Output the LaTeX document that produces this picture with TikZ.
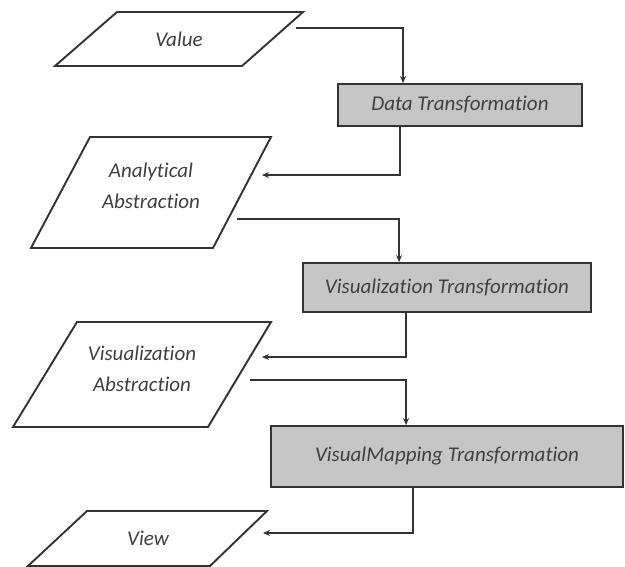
\documentclass[tikz,border=0pt]{standalone}
\usepackage{fontspec}
\setmainfont{Carlito}[Ligatures={NoCommon,NoContextual,NoRequired,NoDiscretionary}]
\usetikzlibrary{arrows.meta}
\definecolor{lineC}{HTML}{333333}
\definecolor{boxC}{HTML}{C6C6C6}
\definecolor{txtC}{HTML}{404040}
\tikzset{
  para/.style={draw=lineC, line width=1.9pt, line join=miter, fill=white},
  procbox/.style={draw=lineC, line width=1.9pt, fill=boxC, rectangle, inner sep=0pt,
    font=\fontsize{21}{31}\selectfont\itshape, text=txtC},
  lbl/.style={inner sep=0pt, align=center, font=\fontsize{21}{31}\selectfont\itshape, text=txtC},
  arr/.style={draw=lineC, line width=1.9pt, -{Stealth[length=7pt,width=6pt]}}
}
\begin{document}
\begin{tikzpicture}[x=1pt,y=-1pt]
\useasboundingbox (0,0) rectangle (625,567);
\fill[white] (0,0) rectangle (625,567);

% parallelograms (data states)
\draw[para] (117,12) -- (303,12) -- (242,66) -- (55,66) -- cycle;
\node[lbl] (val) at (179,39) {Value};

\draw[para] (90,137) -- (271,137) -- (213,248) -- (31,248) -- cycle;
\node[lbl] (ana) at (151,186) {Analytical\\Abstraction};

\draw[para] (77,322) -- (271,322) -- (208,427) -- (13,427) -- cycle;
\node[lbl] (vabs) at (142,369) {Visualization\\Abstraction};

\draw[para] (87,511) -- (267,511) -- (210,566) -- (28,566) -- cycle;
\node[lbl] (view) at (148,538) {View};

% transformation boxes
\node[procbox, minimum width=244pt, minimum height=42pt] (dt) at (460,105) {Data Transformation};
\node[procbox, minimum width=288pt, minimum height=49pt] (vt) at (447,287.5) {Visualization Transformation};
\node[procbox, minimum width=352pt, minimum height=61pt] (vm) at (447,456.5) {VisualMapping Transformation};

% connector end points
\coordinate (valout) at (296,28);
\coordinate (anain) at (262,175);
\coordinate (anaout) at (237,219);
\coordinate (vabsin) at (262,357);
\coordinate (vabsout) at (250,380);
\coordinate (viewin) at (263,533);

% connectors
\draw[arr] (valout) -| ([xshift=66pt]dt.north west);
\draw[arr] ([xshift=63pt]dt.south west) |- (anain);
\draw[arr] (anaout) -| ([xshift=97pt]vt.north west);
\draw[arr] ([xshift=104pt]vt.south west) |- (vabsin);
\draw[arr] (vabsout) -| ([xshift=136pt]vm.north west);
\draw[arr] ([xshift=143pt]vm.south west) |- (viewin);
\end{tikzpicture}
\end{document}
